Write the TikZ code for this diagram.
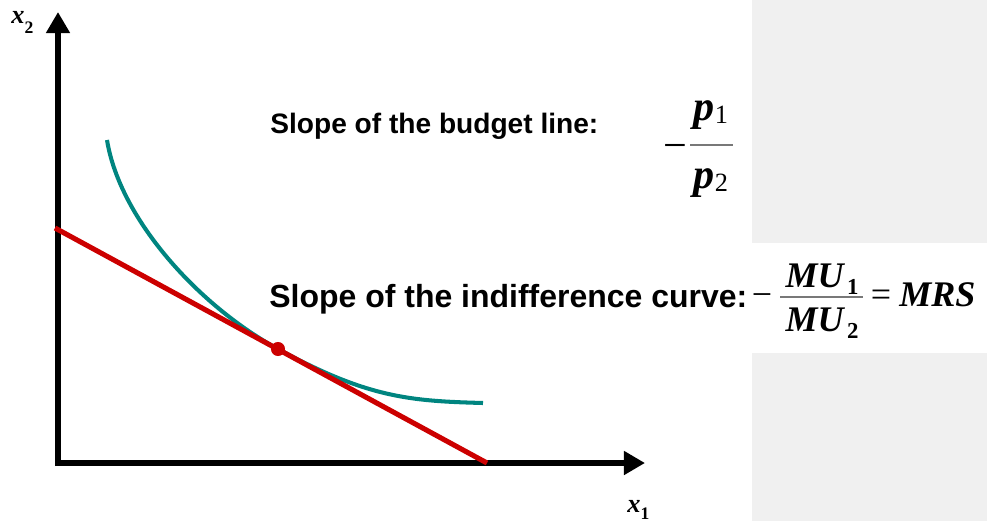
\documentclass[tikz,border=0pt]{standalone}
\usepackage{fontspec}
\setmainfont{Liberation Sans}
\newfontfamily\eqfont{Liberation Serif}
\usetikzlibrary{arrows.meta}
\definecolor{budgetred}{RGB}{204,0,0}
\definecolor{icteal}{RGB}{0,133,128}
\definecolor{panelgray}{RGB}{240,240,240}
\definecolor{bargray}{RGB}{120,120,120}

\begin{document}
\begin{tikzpicture}[x=0.02cm,y=-0.02cm,
    axis/.style={line width=3.4pt,-{Triangle[length=12pt,width=13pt]}},
    slopetext/.style={anchor=base west,inner sep=0pt},
    eq/.style={anchor=base,inner sep=0pt},
    axlabel/.style={anchor=base west,inner sep=0pt,font=\eqfont\bfseries\fontsize{15}{17}\selectfont},
    fracbar/.style={bargray,line width=0.7pt}]
  \useasboundingbox (0,0) rectangle (987,521);
  % panel behind the formulas
  \fill[panelgray] (752,0) rectangle (987,521);
  \fill[white] (752,243) rectangle (987,353);

  % axes
  \coordinate (ybot) at (58,466);
  \coordinate (xleft) at (55,463);
  \coordinate (ytip) at (58,12);
  \coordinate (xtip) at (645,463);
  \draw[axis] (ybot) -- (ytip);
  \draw[axis] (xleft) -- (xtip);
  \node[axlabel] (x2lab) at (11,23) {\itshape x\raisebox{-6pt}{\upshape\fontsize{10}{10}\selectfont 2}};
  \node[axlabel] (x1lab) at (627,512) {\itshape x\raisebox{-4pt}{\upshape\fontsize{10}{10}\selectfont 1}};

  % indifference curve, budget line, optimum
  \coordinate (T) at (278,349);
  \coordinate (icstart) at (107,140);
  \coordinate (icend) at (483,403);
  \draw[icteal,line width=2.3pt] (icstart) .. controls (120,220) and (200,306.6) .. (T)
      .. controls (368,398) and (410,401) .. (icend);
  \coordinate (bl) at (55,228);
  \coordinate (br) at (487,463);
  \draw[budgetred,line width=2.9pt] (bl) -- (br);
  \node[circle,fill=budgetred,minimum size=8pt,inner sep=0pt] (opt) at (T) {};

  % slopes
  \node[slopetext,font=\bfseries\fontsize{16}{19}\selectfont] (budgettxt) at (270,133)
      {Slope of the budget line:};
  \node[slopetext,font=\bfseries\fontsize{18.2}{22}\selectfont] (ictxt) at (269,307)
      {Slope of the indifference curve:};

  % -p1/p2
  \node[eq,font=\eqfont\fontsize{24}{28}\selectfont] (pminus) at (675,159) {−};
  \node[eq,font=\eqfont\bfseries\fontsize{24}{28}\selectfont] (pnum) at (711,120)
      {\itshape p\raisebox{-2pt}{\upshape\mdseries\fontsize{15}{15}\selectfont 1}};
  \draw[fracbar] (690,145) -- (733,145);
  \node[eq,font=\eqfont\bfseries\fontsize{24}{28}\selectfont] (pden) at (711,188)
      {\itshape p\raisebox{-2pt}{\upshape\mdseries\fontsize{15}{15}\selectfont 2}};

  % -MU1/MU2 = MRS
  \node[eq,font=\eqfont\fontsize{20.5}{24}\selectfont] (mrsminus) at (762,306) {−};
  \node[eq,font=\eqfont\bfseries\fontsize{20.5}{24}\selectfont] (munum) at (822,287)
      {\itshape MU\kern2pt\raisebox{-4pt}{\upshape\fontsize{13}{13}\selectfont 1}};
  \draw[fracbar] (780,297) -- (863,297);
  \node[eq,font=\eqfont\bfseries\fontsize{20.5}{24}\selectfont] (muden) at (822,331)
      {\itshape MU\kern2pt\raisebox{-4pt}{\upshape\fontsize{13}{13}\selectfont 2}};
  \node[eq,font=\eqfont\fontsize{20.5}{24}\selectfont] (eqsign) at (881,306) {=};
  \node[slopetext,font=\eqfont\bfseries\fontsize{20.5}{24}\selectfont] (mrs) at (899,306)
      {\itshape MRS};
\end{tikzpicture}
\end{document}
